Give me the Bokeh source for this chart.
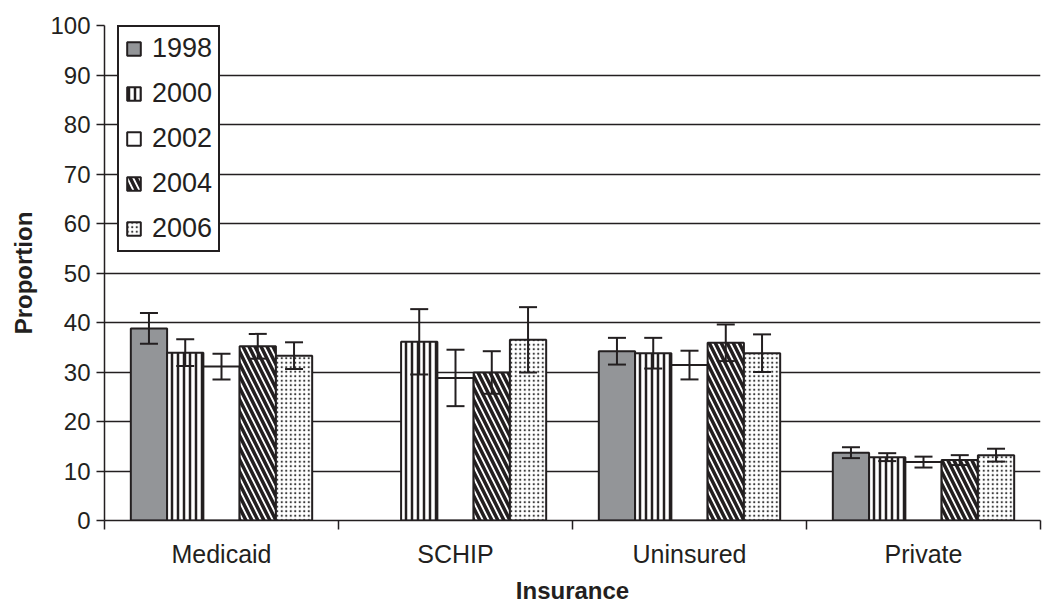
from bokeh.plotting import figure
from bokeh.models import (ColumnDataSource, Whisker, TeeHead, FixedTicker, Range1d,
                          Legend, LegendItem)
from bokeh.embed import file_html
from bokeh.resources import INLINE

categories = ["Medicaid", "SCHIP", "Uninsured", "Private"]
years = ["1998", "2000", "2002", "2004", "2006"]

# value per category for each year (None = not available)
v1998 = [38.8, None, 34.2, 13.7]
v2000 = [33.9, 36.1, 33.8, 12.8]
v2002 = [31.1, 28.8, 31.4, 11.8]
v2004 = [35.2, 29.9, 35.9, 12.2]
v2006 = [33.3, 36.5, 33.8, 13.2]

# error (half-width of confidence interval)
e1998 = [3.1, None, 2.7, 1.1]
e2000 = [2.7, 6.6, 3.1, 0.8]
e2002 = [2.6, 5.7, 2.9, 1.1]
e2004 = [2.5, 4.3, 3.7, 1.0]
e2006 = [2.7, 6.6, 3.8, 1.3]

values = [v1998, v2000, v2002, v2004, v2006]
errors = [e1998, e2000, e2002, e2004, e2006]

y_ticks = list(range(0, 101, 10))

INK = "#231f20"
FONT = "Liberation Sans"

styles = [
    dict(fill_color="#939598"),
    dict(fill_color="white", hatch_pattern="vertical_line", hatch_color=INK,
         hatch_scale=6, hatch_weight=2.5),
    dict(fill_color="white"),
    dict(fill_color="white", hatch_pattern="left_diagonal_line", hatch_color=INK,
         hatch_scale=12, hatch_weight=3.5),
    dict(fill_color="white", hatch_pattern="dot", hatch_color="#3a3a3a",
         hatch_scale=4.5, hatch_weight=1.3),
]

p = figure(width=1042, height=607, x_range=Range1d(0, len(categories)),
           y_range=Range1d(0, 100), output_backend="svg", toolbar_location=None,
           min_border_left=104, min_border_right=2, min_border_top=25,
           min_border_bottom=87)
p.outline_line_color = None
p.background_fill_color = "white"

bw = 0.155
items = []
for j, yr in enumerate(years):
    xs, tops, up, lo = [], [], [], []
    for i, c in enumerate(categories):
        v = values[j][i]
        if v is None:
            continue
        xs.append(i + 0.5 + (j - 2) * bw)
        tops.append(v)
        up.append(v + errors[j][i])
        lo.append(v - errors[j][i])
    src = ColumnDataSource(dict(x=xs, top=tops, upper=up, lower=lo))
    r = p.vbar(x="x", top="top", bottom=0, width=bw, source=src,
               line_color=INK, line_width=2, **styles[j])
    items.append(LegendItem(label=yr, renderers=[r]))
    w = Whisker(base="x", upper="upper", lower="lower", source=src,
                line_color=INK, line_width=2, level="overlay",
                upper_head=TeeHead(size=18, line_color=INK, line_width=2),
                lower_head=TeeHead(size=18, line_color=INK, line_width=2))
    p.add_layout(w)

# axes
centers = [i + 0.5 for i in range(len(categories))]
p.xaxis.ticker = FixedTicker(ticks=centers, minor_ticks=list(range(len(categories) + 1)))
p.xaxis.major_label_overrides = {c: name for c, name in zip(centers, categories)}
p.xaxis.major_tick_line_color = None
p.xaxis.minor_tick_out = 9
p.xaxis.minor_tick_in = 0
p.xaxis.minor_tick_line_color = INK
p.xaxis.minor_tick_line_width = 1.5
p.xaxis.axis_line_color = INK
p.xaxis.axis_line_width = 1.5
p.xaxis.major_label_text_font = FONT
p.xaxis.major_label_text_font_size = "25px"
p.xaxis.major_label_text_color = INK
p.xaxis.major_label_standoff = 10
p.xaxis.axis_label = "Insurance"
p.xaxis.axis_label_text_font = FONT
p.xaxis.axis_label_text_font_size = "24px"
p.xaxis.axis_label_text_font_style = "bold"
p.xaxis.axis_label_text_color = INK
p.xaxis.axis_label_standoff = 6

p.yaxis.ticker = FixedTicker(ticks=y_ticks, minor_ticks=[])
p.yaxis.major_tick_out = 8
p.yaxis.major_tick_in = 0
p.yaxis.major_tick_line_color = INK
p.yaxis.major_tick_line_width = 1.5
p.yaxis.axis_line_color = INK
p.yaxis.axis_line_width = 1.5
p.yaxis.major_label_text_font = FONT
p.yaxis.major_label_text_font_size = "24px"
p.yaxis.major_label_text_color = INK
p.yaxis.major_label_standoff = 6
p.yaxis.axis_label = "Proportion"
p.yaxis.axis_label_text_font = FONT
p.yaxis.axis_label_text_font_size = "24px"
p.yaxis.axis_label_text_font_style = "bold"
p.yaxis.axis_label_text_color = INK
p.yaxis.axis_label_standoff = 10

p.xgrid.visible = False
p.ygrid.ticker = FixedTicker(ticks=y_ticks[1:-1])
p.ygrid.grid_line_color = INK
p.ygrid.grid_line_width = 1.6

legend = Legend(items=items, location=(13, 268), orientation="vertical",
                border_line_color=INK, border_line_width=2, border_line_alpha=1,
                background_fill_color="white", background_fill_alpha=1,
                label_text_font=FONT, label_text_font_size="27px",
                label_text_color=INK, glyph_width=17, glyph_height=17,
                label_height=31, spacing=14, padding=6, label_standoff=10,
                margin=0)
p.add_layout(legend)

open("out.html", "w").write(file_html(p, INLINE))
